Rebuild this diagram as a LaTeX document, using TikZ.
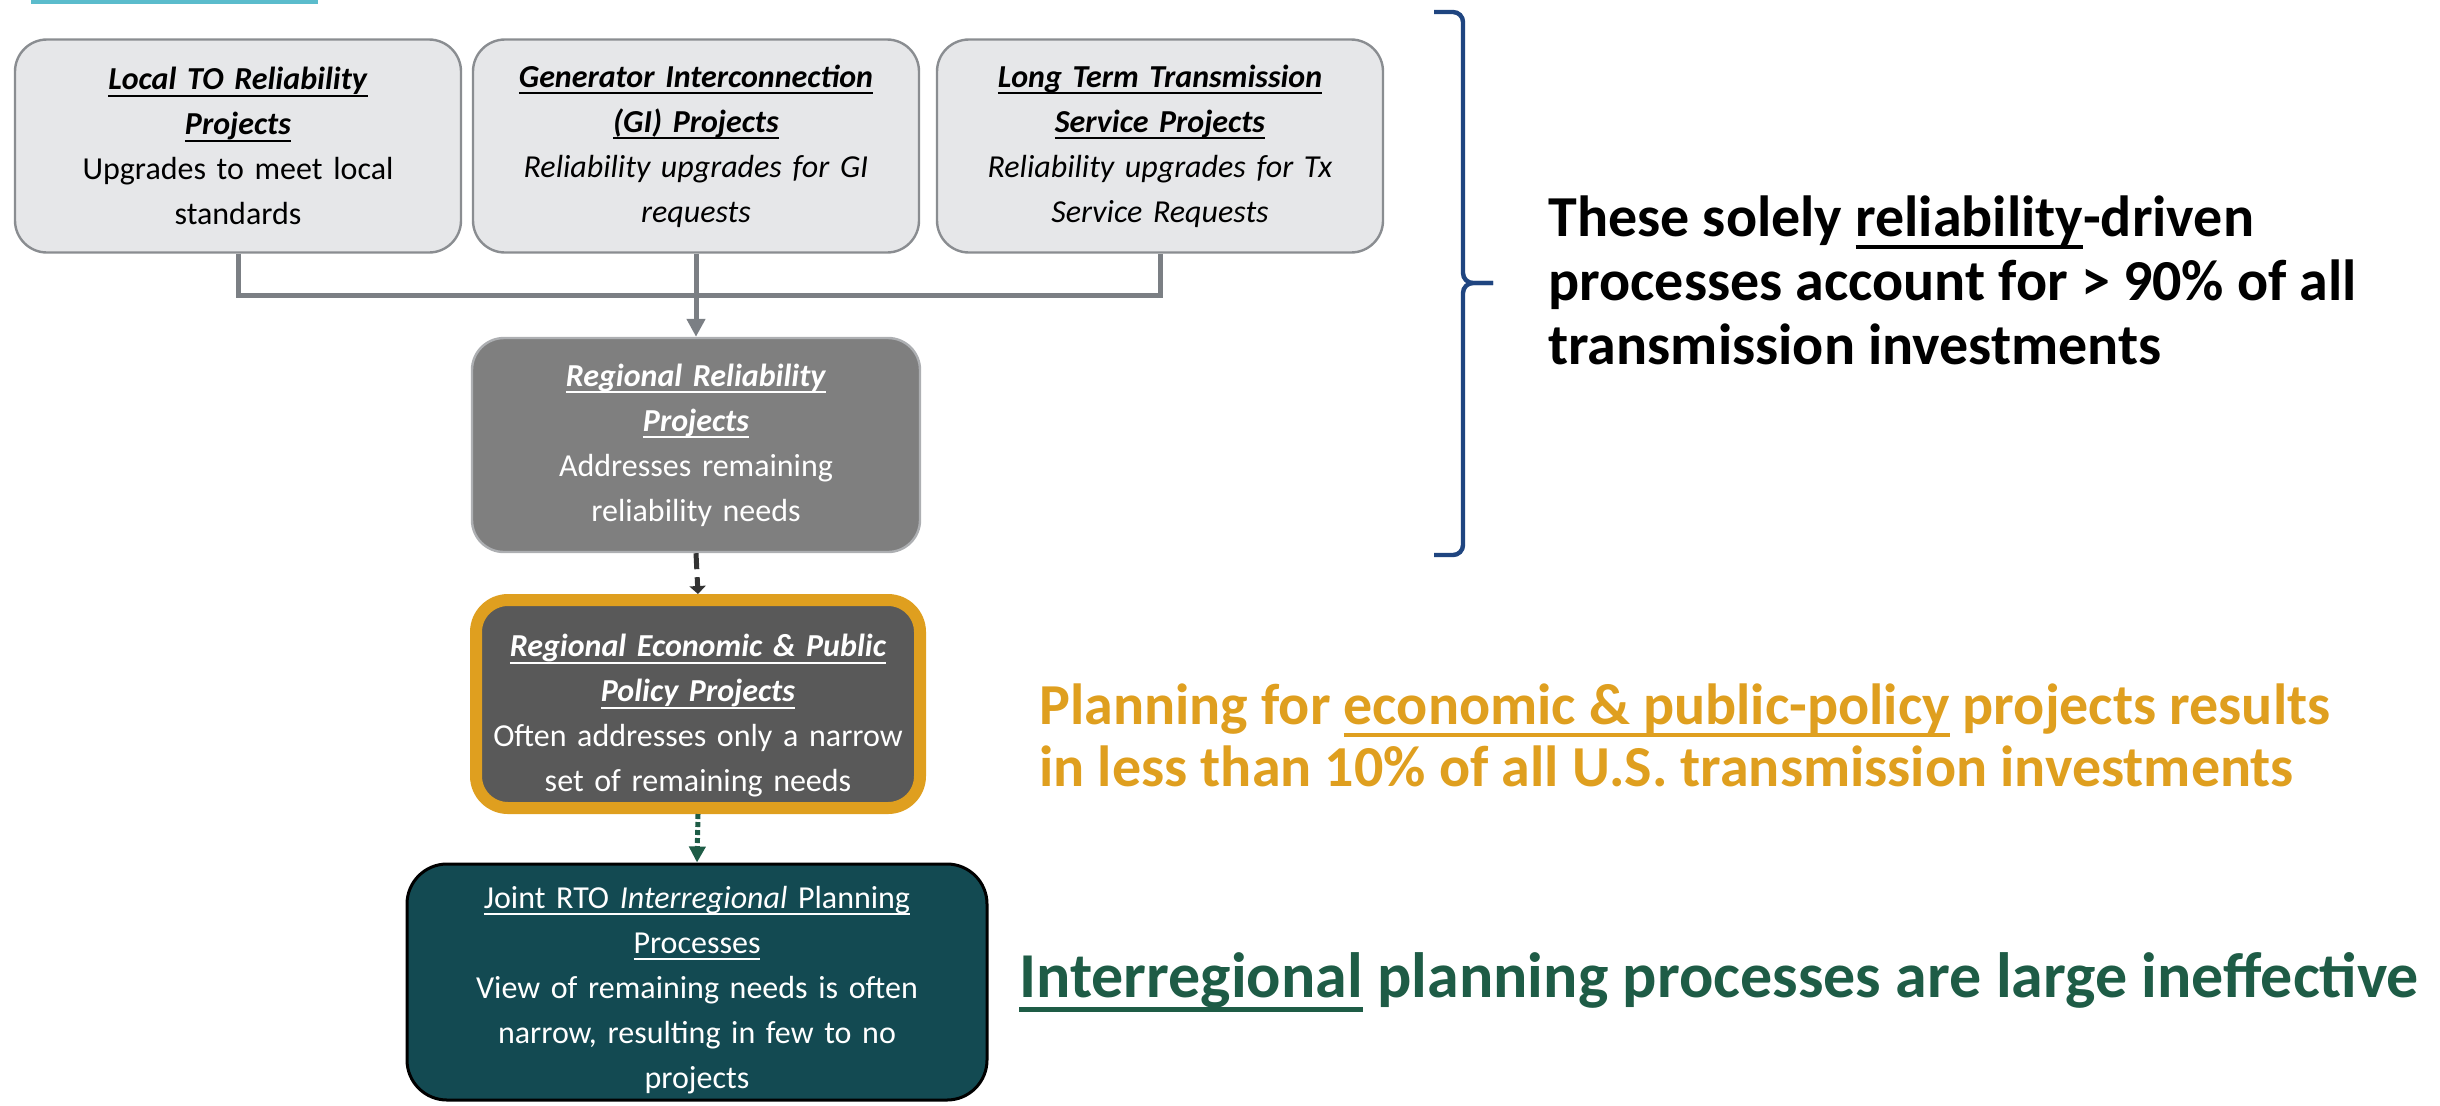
\documentclass[tikz,border=0pt]{standalone}
\usepackage{fontspec}
\setmainfont{Carlito}
\usetikzlibrary{arrows.meta}
\definecolor{boxgray}{HTML}{E6E7E9}
\definecolor{edgegray}{HTML}{8A8D91}
\definecolor{conngray}{HTML}{7B7F84}
\definecolor{relgray}{HTML}{7F7F7F}
\definecolor{econgray}{HTML}{595959}
\definecolor{econorange}{HTML}{DF9F1F}
\definecolor{jointteal}{HTML}{134A52}
\definecolor{intergreen}{HTML}{1E5C46}
\definecolor{bracenavy}{HTML}{1F4580}
\definecolor{topteal}{HTML}{5BBCCC}
\newcommand{\boxfont}{\fontsize{16}{22.5}\selectfont}
\newsavebox{\ulbox}
\newcommand{\ul}[1]{\leavevmode\sbox{\ulbox}{#1}\hbox{\rlap{\rule[-0.22em]{\wd\ulbox}{0.065em}}\usebox{\ulbox}}}
\newcommand{\hd}[1]{\ul{\textbf{\textit{#1}}}}
\tikzset{>/.tip={Triangle[width=9pt,length=9pt]},
  box/.style={draw=edgegray, line width=1.2pt, fill=boxgray, rounded corners=16pt,
    minimum width=223pt, minimum height=106.5pt, text width=215pt, align=center,
    inner sep=0pt, font=\boxfont},
  rbox/.style={box, fill=relgray, draw=edgegray!70, text=white, minimum width=224pt, minimum height=107pt},
  ebox/.style={box, fill=econgray, draw=econorange, line width=6pt, text=white,
    minimum width=222pt, minimum height=104pt},
  jbox/.style={box, fill=jointteal, draw=black, line width=1.5pt, text=white,
    minimum width=290pt, minimum height=118pt, text width=280pt, rounded corners=20pt},
  conn/.style={draw=conngray, line width=2.5pt},
  dconn/.style={draw=black!80, line width=2.5pt, dash pattern=on 8pt off 4pt,
    -{Triangle[width=8pt,length=4pt]}},
  gconn/.style={draw=intergreen, line width=2.5pt, dash pattern=on 2.5pt off 1.5pt,
    -{Triangle[width=8pt,length=8pt]}},
  brace/.style={draw=bracenavy, line width=2.2pt, rounded corners=5pt},
  note/.style={anchor=west, align=left, inner sep=0pt, font=\bfseries\fontsize{29}{32}\selectfont}}

\begin{document}
\begin{tikzpicture}[x=0.5pt,y=-0.5pt]
\useasboundingbox (0,0) rectangle (2440,1105);
\fill[topteal] (31,0) rectangle (318,4);

\node[box] (local) at (238,146) {\hd{Local TO Reliability}\\\hd{Projects}\\Upgrades to meet local\\standards};
\node[box] (gi) at (696,146) {\hd{Generator Interconnection}\\\hd{(GI) Projects}\\\textit{Reliability upgrades for GI}\\\textit{requests}};
\node[box] (ltts) at (1160,146) {\hd{Long Term Transmission}\\\hd{Service Projects}\\\textit{Reliability upgrades for Tx}\\\textit{Service Requests}};
\node[rbox] (rrel) at (696,445) {\hd{Regional Reliability}\\\hd{Projects}\\Addresses remaining\\reliability needs};
\node[ebox] (econ) at (698,704) {\rule{0pt}{23pt}\hd{Regional Economic \& Public}\\\hd{Policy Projects}\\Often addresses only a narrow\\set of remaining needs};
\node[jbox] (joint) at (697,982) {\rule{0pt}{19pt}\ul{Joint RTO \textit{Interregional} Planning}\\\ul{Processes}\\View of remaining needs is often\\narrow, resulting in few to no\\projects};

\coordinate (hub) at (696,295);
\draw[conn] (local.south) |- (hub) -| (ltts.south);
\draw[conn,->] (gi.south) -- (rrel.north);
\draw[dconn] (rrel.south) -- (econ.north);
\draw[gconn] (econ.south) -- (joint.north);

% bracket round the reliability processes
\draw[brace] (1434,12) -- (1463,12) -- (1463,283) -- (1493,283);
\draw[brace] (1493,283) -- (1463,283) -- (1463,555) -- (1434,555);

\node[note] (relnote) at (1548,280) {These solely \ul{reliability}-driven\\processes account for > 90\% of all\\transmission investments};
\node[note, text=econorange, font=\bfseries\fontsize{29}{31}\selectfont] (econnote) at (1039,735) {Planning for \ul{economic \& public-policy} projects results\\in less than 10\% of all U.S. transmission investments};
\node[note, text=intergreen, font=\bfseries\fontsize{32}{32}\selectfont] (internote) at (1019,982) {\ul{Interregional} planning processes are large ineffective};
\end{tikzpicture}
\end{document}
